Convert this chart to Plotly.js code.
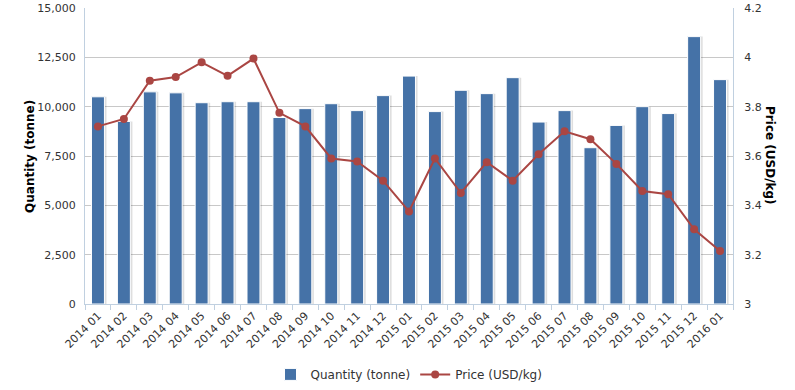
<!DOCTYPE html>
<html>
<head>
<meta charset="utf-8">
<script src="https://cdn.plot.ly/plotly-3.0.1.min.js"></script>
<style>html,body{margin:0;padding:0;background:#fff;}#chart{width:795px;height:390px;}</style>
</head>
<body>
<div id="chart"></div>
<script>
const months = ["2014 01","2014 02","2014 03","2014 04","2014 05","2014 06","2014 07","2014 08","2014 09","2014 10","2014 11","2014 12",
  "2015 01","2015 02","2015 03","2015 04","2015 05","2015 06","2015 07","2015 08","2015 09","2015 10","2015 11","2015 12","2016 01"];
const quantity = [10500,9250,10750,10700,10200,10250,10250,9450,9900,10150,9800,10560,
  11550,9750,10830,10660,11470,9220,9800,7920,9050,10000,9650,13550,11370];
const price = [3.72,3.75,3.905,3.92,3.98,3.925,3.995,3.775,3.72,3.59,3.578,3.50,
  3.375,3.59,3.45,3.575,3.50,3.607,3.70,3.668,3.568,3.458,3.445,3.303,3.215];
const qtyTicks = [0,2500,5000,7500,10000,12500,15000];
const priceTicks = [3,3.2,3.4,3.6,3.8,4,4.2];

const FONT = "DejaVu Sans, Verdana, sans-serif";
const traces = [
  {type:'bar', x:months, y:quantity, width:0.5, offset:-0.17, showlegend:false, hoverinfo:'skip',
   marker:{color:'rgba(0,0,0,0.13)', line:{width:0}}, yaxis:'y'},
  {type:'bar', name:'Quantity (tonne)', x:months, y:quantity, width:0.5, offset:-0.25,
   marker:{color:'#4572A7', line:{color:'#ffffff', width:1}}, yaxis:'y'},
  {type:'scatter', mode:'lines+markers', name:'Price (USD/kg)', x:months, y:price, yaxis:'y2',
   line:{color:'#AA4643', width:2}, marker:{color:'#AA4643', size:8, symbol:'circle'}}
];
const layout = {
  width:795, height:390,
  margin:{l:85, r:62, t:8, b:86, autoexpand:false},
  paper_bgcolor:'#fff', plot_bgcolor:'#fff',
  font:{family:FONT, size:11, color:'#333'},
  barmode:'overlay',
  xaxis:{type:'category', range:[-0.5, months.length-0.5], automargin:false, tickangle:-45, tickson:'boundaries', ticks:'outside', ticklen:5, tickcolor:'#C0D0E0',
    showline:true, linecolor:'#C0D0E0', linewidth:1, showgrid:false, tickfont:{size:11, color:'#333'}},
  yaxis:{range:[0,15000], automargin:false, tickvals:qtyTicks, tickformat:',', showgrid:true, gridcolor:'#C8C8C8', gridwidth:1,
    showline:true, linecolor:'#C0D0E0', zeroline:false, ticks:'', ticklabelstandoff:6, tickfont:{size:11, color:'#333'}},
  yaxis2:{range:[3,4.2], automargin:false, tickvals:priceTicks, overlaying:'y', side:'right', showgrid:true, gridcolor:'#C8C8C8',
    showline:true, linecolor:'#C0D0E0', zeroline:false, ticks:'', ticklabelstandoff:8, tickfont:{size:11, color:'#333'}},
  legend:{orientation:'h', x:0.5, xanchor:'center', yref:'container', y:0.04, yanchor:'middle', font:{size:12, color:'#333'}, traceorder:'normal'},
  annotations:[
    {text:'<b>Quantity (tonne)</b>', xref:'paper', yref:'paper', x:-0.085, y:0.5, xanchor:'center', yanchor:'middle',
     textangle:-90, showarrow:false, font:{size:12, color:'#000', family:FONT}},
    {text:'<b>Price (USD/kg)</b>', xref:'paper', yref:'paper', x:1.057, y:0.5, xanchor:'center', yanchor:'middle',
     textangle:90, showarrow:false, font:{size:12, color:'#000', family:FONT}}
  ]
};
Plotly.newPlot('chart', traces, layout, {displayModeBar:false, staticPlot:true});
</script>
</body>
</html>
